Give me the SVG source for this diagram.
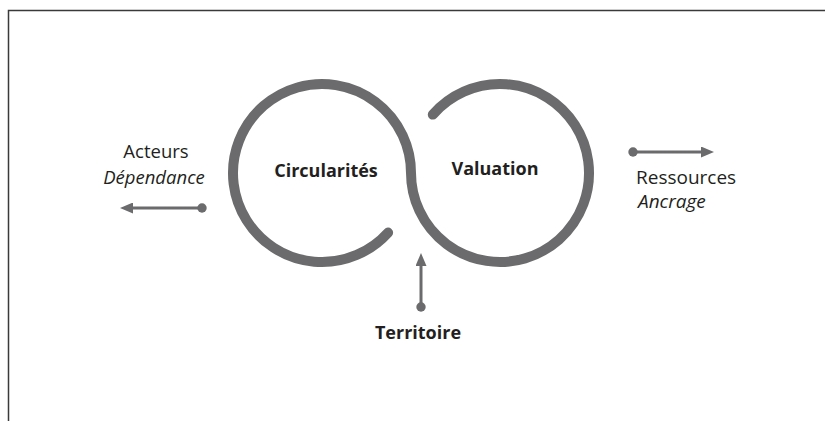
<svg xmlns="http://www.w3.org/2000/svg" width="825" height="421" viewBox="0 0 825 421">
<style>
.frame{fill:none;stroke:#3a3a3a;stroke-width:1.5}
.loop{fill:none;stroke:#6b6b6d;stroke-width:10;stroke-linecap:round}
.arr{fill:none;stroke:#6b6b6d;stroke-width:3}
.lbl{font-family:"Open Sans","Liberation Sans",sans-serif;font-size:18.5px;fill:#231f20}
.it{font-style:italic}
.bold{font-weight:bold;font-size:18px}
</style>
<defs>
<marker id="head" viewBox="0 0 13 11" refX="0" refY="5.5" markerWidth="13" markerHeight="11" markerUnits="userSpaceOnUse" orient="auto">
<path d="M0,0 L13,5.5 L0,11 z" fill="#6b6b6d"/>
</marker>
<marker id="dot" viewBox="0 0 10 10" refX="5" refY="5" markerWidth="10" markerHeight="10" markerUnits="userSpaceOnUse" orient="auto">
<circle cx="5" cy="5" r="4.7" fill="#6b6b6d"/>
</marker>
</defs>
<rect width="825" height="421" fill="#ffffff"/>
<path class="frame" d="M8.5,421 V10.5 H825"/>
<g id="loops">
<path class="loop" d="M388.1,232.6 A89,89 0 1 1 411,173 A89,89 0 1 0 432.8,114.6"/>
</g>
<g id="connectors">
<line class="arr" x1="202" y1="208" x2="133" y2="208" marker-start="url(#dot)" marker-end="url(#head)"/>
<line class="arr" x1="633" y1="152" x2="701" y2="152" marker-start="url(#dot)" marker-end="url(#head)"/>
<line class="arr" x1="421" y1="307" x2="421" y2="266" marker-start="url(#dot)" marker-end="url(#head)"/>
</g>
<g id="node-circularites"><text class="lbl bold" x="326" y="177" text-anchor="middle">Circularités</text></g>
<g id="node-valuation"><text class="lbl bold" x="495" y="175" text-anchor="middle">Valuation</text></g>
<g id="node-acteurs">
<text class="lbl" x="156" y="158" text-anchor="middle">Acteurs</text>
<text class="lbl it" x="154" y="184" text-anchor="middle">Dépendance</text>
</g>
<g id="node-ressources">
<text class="lbl" x="636" y="184" style="font-size:19px">Ressources</text>
<text class="lbl it" x="638" y="208" style="font-size:19px">Ancrage</text>
</g>
<g id="node-territoire"><text class="lbl bold" x="418" y="339" text-anchor="middle">Territoire</text></g>
</svg>
